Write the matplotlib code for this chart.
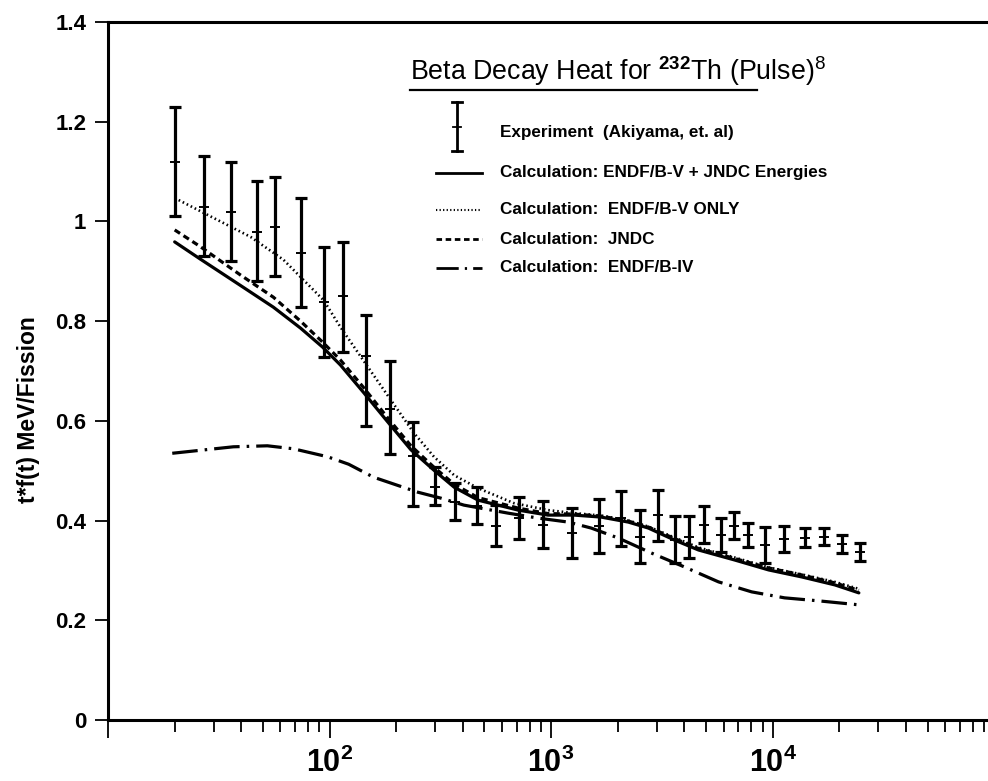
import numpy as np
import matplotlib
matplotlib.use("Agg")
import matplotlib.pyplot as plt
from matplotlib.lines import Line2D
from matplotlib.ticker import FixedLocator, NullFormatter

plt.rcParams['font.family'] = ['Liberation Sans', 'DejaVu Sans']
plt.rcParams['mathtext.fontset'] = 'custom'
plt.rcParams['mathtext.rm'] = 'Liberation Sans'
plt.rcParams['mathtext.it'] = 'Liberation Sans'
plt.rcParams['mathtext.bf'] = 'Liberation Sans:bold'

# experiment (Akiyama et al.): cooling time [s], value, upper and lower ends of the bar
t_exp = [20, 27, 36, 47, 57, 74, 94, 115, 146, 187, 238, 299, 368, 462, 564, 716,
         920, 1245, 1648, 2075, 2531, 3050, 3607, 4210, 4920, 5820, 6670, 7710,
         9200, 11200, 13970, 17000, 20500, 24800]
f_exp = [1.119, 1.029, 1.019, 0.979, 0.989, 0.936, 0.838, 0.850, 0.730, 0.624,
         0.530, 0.468, 0.438, 0.430, 0.390, 0.405, 0.392, 0.375, 0.389, 0.405,
         0.368, 0.412, 0.362, 0.367, 0.392, 0.371, 0.390, 0.371, 0.351, 0.363,
         0.366, 0.368, 0.353, 0.337]
f_hi = [1.229, 1.131, 1.119, 1.081, 1.089, 1.047, 0.949, 0.959, 0.812, 0.720,
        0.598, 0.507, 0.475, 0.467, 0.431, 0.447, 0.439, 0.425, 0.443, 0.460,
        0.421, 0.461, 0.409, 0.409, 0.429, 0.405, 0.417, 0.395, 0.387, 0.389,
        0.385, 0.385, 0.371, 0.355]
f_lo = [1.011, 0.931, 0.921, 0.880, 0.890, 0.828, 0.728, 0.738, 0.590, 0.533,
        0.429, 0.431, 0.401, 0.393, 0.349, 0.363, 0.345, 0.325, 0.335, 0.349,
        0.315, 0.359, 0.315, 0.325, 0.355, 0.337, 0.363, 0.347, 0.315, 0.337,
        0.347, 0.351, 0.335, 0.319]

# ENDF/B-V + JNDC energies
t_calc = [20, 26, 39.5, 55.8, 74, 93, 112, 143, 183, 233, 296, 365, 468, 710, 969,
          1270, 1683, 2230, 2748, 3603, 4627, 6730, 9590, 13520, 19080, 24490]
f_endf5_jndc = [0.959, 0.925, 0.872, 0.828, 0.786, 0.748, 0.712, 0.656, 0.598,
                0.542, 0.501, 0.467, 0.441, 0.421, 0.411, 0.411, 0.407, 0.397,
                0.385, 0.361, 0.341, 0.321, 0.301, 0.287, 0.271, 0.255]
# JNDC
f_jndc = [0.983, 0.950, 0.893, 0.848, 0.800, 0.758, 0.722, 0.666, 0.606, 0.550,
          0.507, 0.473, 0.446, 0.425, 0.414, 0.413, 0.409, 0.399, 0.387, 0.364,
          0.344, 0.324, 0.305, 0.291, 0.275, 0.260]

# ENDF/B-V only
t_endf5 = [20, 44, 62, 94, 112, 149, 189, 240, 296, 365, 468, 679, 969, 1270, 1683,
           2230, 2748, 3603, 4627, 6730, 9590, 13520, 19080, 24490]
f_endf5 = [1.047, 0.969, 0.923, 0.842, 0.788, 0.708, 0.642, 0.576, 0.528, 0.491,
           0.465, 0.435, 0.421, 0.415, 0.410, 0.400, 0.388, 0.366, 0.346, 0.326,
           0.306, 0.292, 0.277, 0.263]

# ENDF/B-IV
t_endf4 = [19.5, 36.8, 52.4, 68.7, 98, 122, 158, 250, 318, 404, 638, 873, 1194,
           1517, 2010, 2833, 3997, 5700, 8040, 11320, 16130, 24490]
f_endf4 = [0.535, 0.548, 0.550, 0.544, 0.528, 0.513, 0.487, 0.457, 0.445, 0.431,
           0.415, 0.405, 0.397, 0.385, 0.365, 0.335, 0.307, 0.277, 0.257, 0.245,
           0.239, 0.231]

y_ticks = [0, 0.2, 0.4, 0.6, 0.8, 1.0, 1.2, 1.4]
y_labels = ['0', '0.2', '0.4', '0.6', '0.8', '1', '1.2', '1.4']
x_ticks = [1e1, 1e2, 1e3, 1e4, 1e5]
x_labels = ['', r'$\mathbf{10^{2}}$', r'$\mathbf{10^{3}}$', r'$\mathbf{10^{4}}$', '']

fig = plt.figure(figsize=(9.88, 7.81), dpi=100)
ax = fig.add_axes([0.1093, 0.0781, 0.897, 0.8937])

DOT = (0, (0.6, 1.1))
DASH = (0, (2.0, 1.3))
DASHDOT = (0, (8, 2.2, 0.8, 2.2))

ax.plot(t_calc, f_endf5_jndc, color='k', lw=2.3, solid_capstyle='round')
ax.plot(t_calc, f_jndc, color='k', lw=2.3, ls=DASH)
ax.plot(t_endf5, f_endf5, color='k', lw=1.9, ls=DOT)
ax.plot(t_endf4, f_endf4, color='k', lw=2.3, ls=DASHDOT)

f_exp_a = np.array(f_exp)
yerr = [f_exp_a - np.array(f_lo), np.array(f_hi) - f_exp_a]
ax.errorbar(t_exp, f_exp, yerr=yerr, fmt='none', ecolor='k', elinewidth=2.3,
            capsize=4.5, capthick=2.3)
ax.plot(t_exp, f_exp, ls='none', marker='_', ms=7, mew=1.4, color='k')

ax.set_xscale('log')
ax.set_xlim(10, 1e5)
ax.set_ylim(0, 1.4)

ax.xaxis.set_major_locator(FixedLocator(x_ticks))
ax.set_xticklabels(x_labels)
ax.xaxis.set_minor_locator(FixedLocator(
    [m * 10.0 ** e for e in range(1, 5) for m in range(2, 10)]))
ax.xaxis.set_minor_formatter(NullFormatter())
ax.set_yticks(y_ticks)
ax.set_yticklabels(y_labels)

ax.tick_params(axis='x', which='major', direction='out', length=13, width=1.3,
               labelsize=22, pad=7)
ax.tick_params(axis='x', which='minor', direction='out', length=8.5, width=1.3)
ax.tick_params(axis='y', which='major', direction='out', length=9.5, width=1.3,
               labelsize=16, pad=6)
for lbl in ax.get_yticklabels():
    lbl.set_fontweight('bold')

for side in ['left', 'bottom', 'top']:
    ax.spines[side].set_linewidth(2.2)
ax.spines['right'].set_visible(False)

fig.text(28 / 988, 0.475, 't*f(t) MeV/Fission', rotation=90, ha='center',
         va='center', fontsize=16.5, fontweight='bold')

# title with underline
fig.text(410 / 988, 1 - 80 / 781, r'Beta Decay Heat for $^{\mathbf{232}}$Th (Pulse)$^{8}$',
         fontsize=19.3, ha='left', va='baseline')
fig.add_artist(Line2D([410 / 988, 757 / 988], [1 - 90 / 781, 1 - 90 / 781],
                      color='k', lw=1.6))

# legend
def fy(py):
    return 1 - py / 781

def fx(px):
    return px / 988

xe = fx(457)
fig.add_artist(Line2D([xe, xe], [fy(102), fy(151)], color='k', lw=2.0))
for py in (102, 151):
    fig.add_artist(Line2D([fx(452), fx(462)], [fy(py), fy(py)], color='k', lw=2.0))
fig.add_artist(Line2D([fx(453), fx(461)], [fy(127), fy(127)], color='k', lw=1.3))

legend_rows = [
    (133, None, 'Experiment  (Akiyama, et. al)'),
    (173, dict(lw=2.0), 'Calculation: ENDF/B-V + JNDC Energies'),
    (210, dict(lw=1.5, ls=DOT), 'Calculation:  ENDF/B-V ONLY'),
    (239, dict(lw=2.0, ls=DASH), 'Calculation:  JNDC'),
    (268, dict(lw=2.0, ls=DASHDOT), 'Calculation:  ENDF/B-IV'),
]
for py, style, label in legend_rows:
    if style is not None:
        fig.add_artist(Line2D([fx(436), fx(482)], [fy(py), fy(py)], color='k', **style))
    fig.text(fx(500), fy(py), label, fontsize=12.3, fontweight='bold', ha='left',
             va='center')

fig.savefig('out.png', dpi=100)
